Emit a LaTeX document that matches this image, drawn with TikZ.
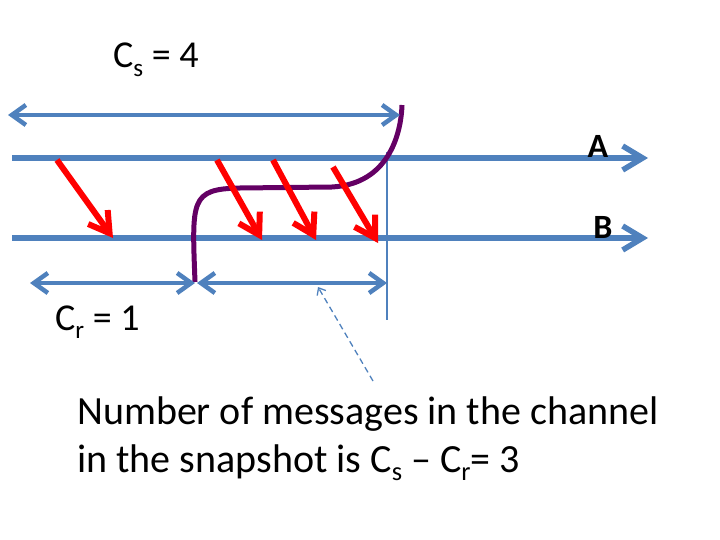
\documentclass[tikz,border=0pt]{standalone}
\usepackage{fontspec}
\setmainfont{Carlito}
\usetikzlibrary{arrows.meta}
\definecolor{slateblue}{RGB}{79,129,189}
\definecolor{snapred}{RGB}{255,0,0}
\definecolor{cutpurple}{RGB}{100,0,100}
\newcommand{\idx}[1]{\raisebox{-.22em}{\scalebox{.66}{#1}}}
\tikzset{
  proc/.style={
    line width=5.5pt,
    slateblue,
    -{Straight Barb[length=20pt,width=24pt]}
  },
  span/.style={
    line width=4.5pt,
    slateblue,
    {Straight Barb[length=14pt,width=20pt]}-{Straight Barb[length=14pt,width=20pt]}
  },
  msg/.style={
    line width=6pt,
    snapred,
    -{Straight Barb[length=20pt,width=24pt]}
  },
  cut/.style={
    line width=5pt,
    cutpurple
  },
  guide/.style={
    line width=1.8pt,
    slateblue
  },
  hint/.style={
    line width=1.3pt,
    slateblue,
    dash pattern=on 6pt off 4pt,
    -{Straight Barb[length=6pt,width=10pt]}
  },
  tag/.style={
    inner sep=0pt,
    font=\fontsize{38}{40}\selectfont
  }
}
\begin{document}
\begin{tikzpicture}[x=1pt,y=-1pt]
\useasboundingbox (0,0) rectangle (720,540);
% process lines
\coordinate (a0) at (12,158);
\coordinate (a1) at (648,158);
\coordinate (b0) at (12,238);
\coordinate (b1) at (648,238);
\draw[proc] (a0) -- (a1);
\draw[proc] (b0) -- (b1);
\node[tag,font=\fontsize{34}{40}\selectfont\bfseries] (A) at (598,146) {A};
\node[tag,font=\fontsize{34}{40}\selectfont\bfseries] (B) at (603,227) {B};
% snapshot instant
\coordinate (g0) at (387,152);
\coordinate (g1) at (387,320);
\draw[guide] (g0) -- (g1);
% cut
\coordinate (cutlow) at (195,282);
\coordinate (cutbend) at (240,188);
\coordinate (cutflat) at (332,187);
\coordinate (cuttop) at (402,105);
\draw[cut] (cutlow) .. controls (192,200) and (190,189) .. (cutbend)
  -- (cutflat) .. controls (388,184) and (401,135) .. (cuttop);
% messages
\coordinate (m1s) at (57,160);
\coordinate (m1e) at (113,238);
\coordinate (m2s) at (217,160);
\coordinate (m2e) at (262,240);
\coordinate (m3s) at (273,160);
\coordinate (m3e) at (316,240);
\coordinate (m4s) at (333,167);
\coordinate (m4e) at (378,243);
\draw[msg] (m1s) -- (m1e);
\draw[msg] (m2s) -- (m2e);
\draw[msg] (m3s) -- (m3e);
\draw[msg] (m4s) -- (m4e);
% counters
\coordinate (cs0) at (8,115);
\coordinate (cs1) at (400,115);
\draw[span] (cs0) -- (cs1);
\node[tag,anchor=base west] (cs) at (113,68) {C\idx{s} = 4};
\coordinate (cr0) at (30,283);
\coordinate (cr1) at (195,283);
\coordinate (ch0) at (197,283);
\coordinate (ch1) at (387,283);
\draw[span] (cr0) -- (cr1);
\draw[span] (ch0) -- (ch1);
\node[tag,anchor=base west] (cr) at (55,330) {C\idx{r} = 1};
% note
\coordinate (h0) at (373,381);
\coordinate (h1) at (318,287);
\draw[hint] (h0) -- (h1);
\node[tag,anchor=base west,align=left,font=\fontsize{40}{48}\selectfont] (note) at (77,472)
  {Number of messages in the channel\\in the snapshot is C\idx{s} -- C\idx{r}= 3};
\end{tikzpicture}
\end{document}
